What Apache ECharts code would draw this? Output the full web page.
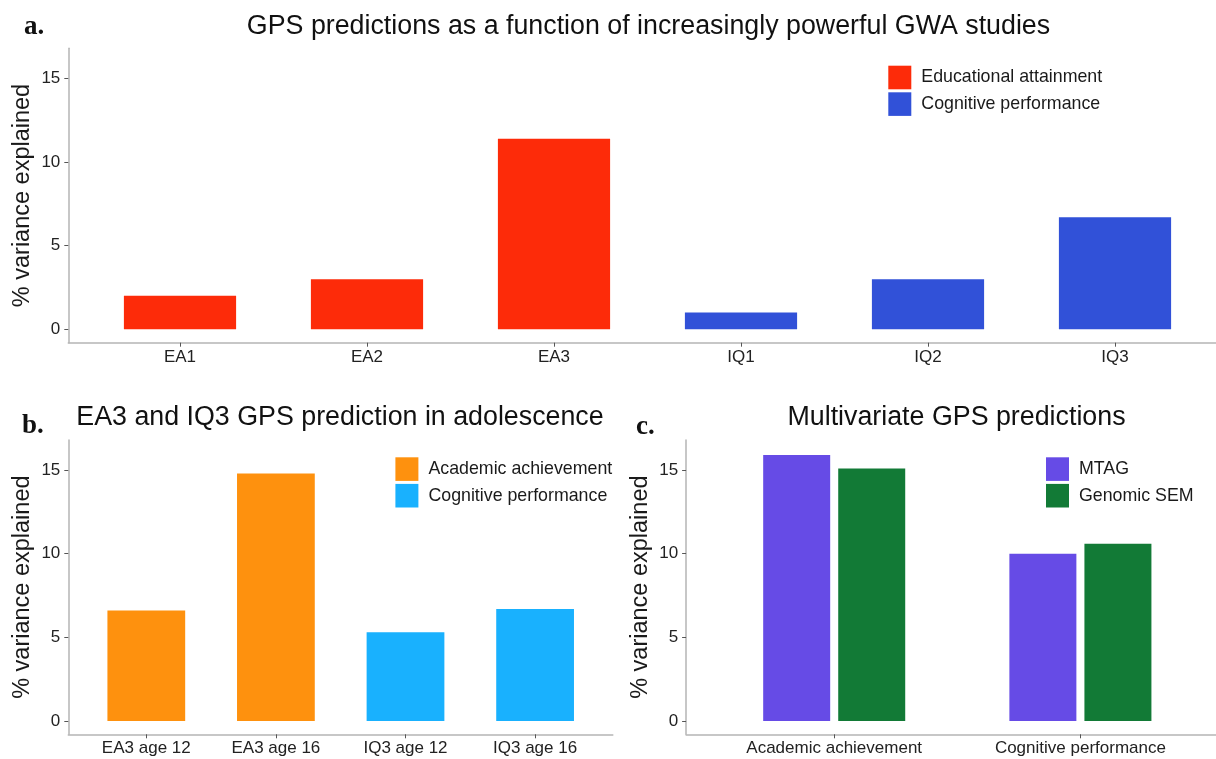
<!DOCTYPE html>
<html>
<head>
<meta charset="utf-8">
<script src="https://cdn.jsdelivr.net/npm/echarts@6/dist/echarts.min.js"></script>
<style>
html,body{margin:0;padding:0;background:#fff;}
#c{width:1216px;height:759px;}
</style>
</head>
<body>
<div id="c"></div>
<script>
// ---- data ----
const categoriesA = ['EA1', 'EA2', 'EA3', 'IQ1', 'IQ2', 'IQ3'];
const eduAttainA = [2.0, 3.0, 11.4];
const cogPerfA = [1.0, 3.0, 6.7];
const categoriesB = ['EA3 age 12', 'EA3 age 16', 'IQ3 age 12', 'IQ3 age 16'];
const academicB = [6.6, 14.8];
const cognitiveB = [5.3, 6.7];
const categoriesC = ['Academic achievement', 'Cognitive performance'];
const mtagC = [15.9, 10.0];
const gsemC = [15.1, 10.6];
const yTicks = [0, 5, 10, 15];
const yMin = -0.8, yMax = 16.8;

// ---- styles ----
const FONT = "'Liberation Sans', Arial, sans-serif";
const SERIF = "'Liberation Serif', 'Times New Roman', serif";
const AXIS_COLOR = '#b5b5b5';
const TICK_COLOR = '#555';
const LABEL_COLOR = '#222';
const COLORS = {
  red: '#fd2b09', blue: '#3151d8', orange: '#fe910e',
  cyan: '#19b1fe', purple: '#664be6', green: '#127a36'
};

function pad(arr, before, after) {
  return Array(before).fill(null).concat(arr, Array(after).fill(null));
}

const grids = [
  // panel a
  { left: 86.5, top: 48.3, width: 1122, height: 294.4 },
  { left: 68.3, top: 48.3, width: 1147.7, height: 294.4 },
  // panel b
  { left: 81.5, top: 440, width: 518.4, height: 294.3 },
  { left: 68.3, top: 440, width: 544.5, height: 294.3 },
  // panel c
  { left: 711.1, top: 440, width: 492.4, height: 294.3 },
  { left: 686.1, top: 440, width: 529.9, height: 294.3 }
].map(g => Object.assign({ outerBoundsMode: 'none', containLabel: false }, g));

function catAxis(gridIndex, data) {
  return {
    type: 'category', gridIndex, data,
    axisLine: { show: false, onZero: false },
    axisTick: { show: true, alignWithLabel: true, length: 4, lineStyle: { color: TICK_COLOR, width: 1 } },
    axisLabel: { color: LABEL_COLOR, fontFamily: FONT, fontSize: 17, margin: 6 },
    splitLine: { show: false }
  };
}
function frameX(gridIndex) {
  return {
    type: 'value', gridIndex, min: 0, max: 1,
    axisLine: { show: true, onZero: false, lineStyle: { color: AXIS_COLOR, width: 1.5 } },
    axisTick: { show: false }, axisLabel: { show: false }, splitLine: { show: false }
  };
}
function hiddenY(gridIndex) {
  return { type: 'value', gridIndex, min: yMin, max: yMax, show: false, splitLine: { show: false } };
}
function frameY(gridIndex) {
  return {
    type: 'value', gridIndex, min: yMin, max: yMax,
    name: '% variance explained', nameLocation: 'middle', nameGap: 34, nameRotate: 90,
    nameMoveOverlap: false,
    nameTextStyle: { color: '#1a1a1a', fontFamily: FONT, fontSize: 23.5 },
    axisLine: { show: true, onZero: false, lineStyle: { color: AXIS_COLOR, width: 1.5 } },
    axisTick: { show: true, length: 4, customValues: yTicks, lineStyle: { color: TICK_COLOR, width: 1 } },
    axisLabel: { show: true, customValues: yTicks, color: LABEL_COLOR, fontFamily: FONT, fontSize: 17, margin: 8 },
    splitLine: { show: false }
  };
}

function legend(left, top, items) {
  return {
    orient: 'vertical', left, top, padding: 0, itemWidth: 23, itemHeight: 23.6, itemGap: 3,
    icon: 'rect', selectedMode: false,
    textStyle: { color: '#1a1a1a', fontFamily: FONT, fontSize: 17.8, padding: [0, 0, 0, 5] },
    data: items
  };
}

const option = {
  animation: false,
  backgroundColor: '#fff',
  grid: grids,
  xAxis: [
    catAxis(0, categoriesA), frameX(1),
    catAxis(2, categoriesB), frameX(3),
    catAxis(4, categoriesC), frameX(5)
  ],
  yAxis: [
    hiddenY(0), frameY(1),
    hiddenY(2), frameY(3),
    hiddenY(4), frameY(5)
  ],
  legend: [
    legend(888.3, 65.7, [
      { name: 'Educational attainment', itemStyle: { color: COLORS.red } },
      { name: 'Cognitive performance', itemStyle: { color: COLORS.blue } }
    ]),
    legend(395.4, 457.3, [
      { name: 'Academic achievement', itemStyle: { color: COLORS.orange } },
      { name: 'Cognitive performance', itemStyle: { color: COLORS.cyan } }
    ]),
    legend(1046, 457.3, [
      { name: 'MTAG', itemStyle: { color: COLORS.purple } },
      { name: 'Genomic SEM', itemStyle: { color: COLORS.green } }
    ])
  ],
  series: [
    { type: 'bar', name: 'Educational attainment', xAxisIndex: 0, yAxisIndex: 0,
      data: pad(eduAttainA, 0, categoriesA.length - eduAttainA.length),
      barWidth: '60%', barGap: '-100%', itemStyle: { color: COLORS.red } },
    { type: 'bar', name: 'Cognitive performance', xAxisIndex: 0, yAxisIndex: 0,
      data: pad(cogPerfA, categoriesA.length - cogPerfA.length, 0),
      barWidth: '60%', barGap: '-100%', itemStyle: { color: COLORS.blue } },
    { type: 'bar', name: 'Academic achievement', xAxisIndex: 2, yAxisIndex: 2,
      data: pad(academicB, 0, categoriesB.length - academicB.length),
      barWidth: '60%', barGap: '-100%', itemStyle: { color: COLORS.orange } },
    { type: 'bar', name: 'Cognitive performance', xAxisIndex: 2, yAxisIndex: 2,
      data: pad(cognitiveB, categoriesB.length - cognitiveB.length, 0),
      barWidth: '60%', barGap: '-100%', itemStyle: { color: COLORS.cyan } },
    { type: 'bar', name: 'MTAG', xAxisIndex: 4, yAxisIndex: 4, data: mtagC,
      barWidth: 67, barGap: '12%', itemStyle: { color: COLORS.purple } },
    { type: 'bar', name: 'Genomic SEM', xAxisIndex: 4, yAxisIndex: 4, data: gsemC,
      barWidth: 67, barGap: '12%', itemStyle: { color: COLORS.green } }
  ],
  graphic: [
    { type: 'text', x: 24, y: 27, style: { text: 'a.', font: 'bold 27px ' + SERIF, fill: '#111', align: 'left', verticalAlign: 'middle' } },
    { type: 'text', x: 648.5, y: 27, style: { text: 'GPS predictions as a function of increasingly powerful GWA studies', font: '26.8px ' + FONT, fill: '#111', align: 'center', verticalAlign: 'middle' } },
    { type: 'text', x: 22, y: 426, style: { text: 'b.', font: 'bold 27px ' + SERIF, fill: '#111', align: 'left', verticalAlign: 'middle' } },
    { type: 'text', x: 340, y: 418, style: { text: 'EA3 and IQ3 GPS prediction in adolescence', font: '26.8px ' + FONT, fill: '#111', align: 'center', verticalAlign: 'middle' } },
    { type: 'text', x: 636, y: 427.5, style: { text: 'c.', font: 'bold 27px ' + SERIF, fill: '#111', align: 'left', verticalAlign: 'middle' } },
    { type: 'text', x: 956.5, y: 418, style: { text: 'Multivariate GPS predictions', font: '26.8px ' + FONT, fill: '#111', align: 'center', verticalAlign: 'middle' } }
  ]
};

const chart = echarts.init(document.getElementById('c'), null, { renderer: 'canvas' });
chart.setOption(option);
</script>
</body>
</html>
